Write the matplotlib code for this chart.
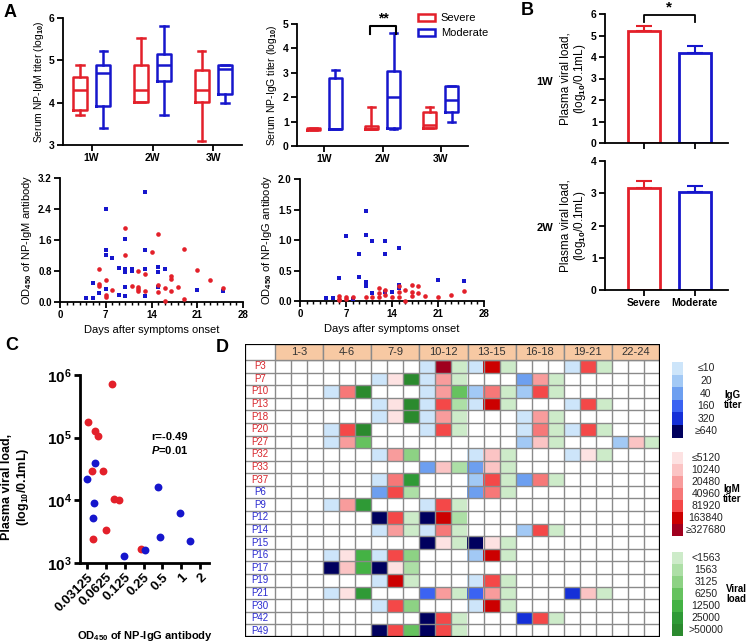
import numpy as np
import matplotlib
matplotlib.use('Agg')
import matplotlib.pyplot as plt
from matplotlib.patches import Patch, Rectangle
from matplotlib.ticker import MultipleLocator, NullLocator

plt.rcParams['font.family'] = ['Liberation Sans', 'DejaVu Sans']
plt.rcParams['font.weight'] = 'bold'
plt.rcParams['mathtext.fontset'] = 'custom'
plt.rcParams['mathtext.rm'] = 'Liberation Sans'
plt.rcParams['mathtext.it'] = 'Liberation Sans:italic'
plt.rcParams['mathtext.bf'] = 'Liberation Sans:bold'

RED = '#e3202a'
BLUE = '#1616cc'

# ---------------- data ----------------
weeks = ['1W', '2W', '3W']
# box stats per week: [whislo, q1, med, q3, whishi]
igm_severe = [[3.7, 3.82, 4.3, 4.6, 4.9], [4.02, 4.02, 4.3, 4.9, 5.52], [3.1, 4.02, 4.3, 4.78, 5.22]]
igm_moderate = [[3.4, 3.93, 4.7, 4.9, 5.22], [3.7, 4.5, 4.9, 5.15, 5.82], [4.0, 4.2, 4.8, 4.9, 4.9]]
igg_severe = [[0.66, 0.66, 0.7, 0.74, 0.74], [0.7, 0.7, 0.7, 0.8, 1.6], [0.72, 0.72, 0.88, 1.38, 1.6]]
igg_moderate = [[0.7, 0.7, 0.7, 2.78, 3.1], [0.7, 0.72, 2.0, 3.08, 4.62], [1.0, 1.4, 1.9, 2.45, 2.45]]

igm_mod_day = [13, 7, 7, 7, 8, 10, 10, 10, 11, 11, 9, 13, 13, 15, 15, 16, 10, 10, 9, 7, 6, 5, 5, 4, 13, 15, 21, 25]
igm_mod_od = [2.85, 2.4, 1.35, 1.22, 1.14, 1.62, 0.84, 0.78, 0.84, 0.80, 0.88, 1.34, 0.86, 0.90, 0.78, 0.84,
              0.39, 0.15, 0.19, 0.33, 0.22, 0.49, 0.11, 0.11, 0.16, 0.39, 0.32, 0.28]
igm_sev_day = [10, 15, 14, 19, 10, 6, 12, 13, 21, 17, 17, 23, 7, 6, 6, 7, 7, 8, 11, 12, 12, 12, 13, 15, 15,
               16, 17, 18, 19, 16, 25]
igm_sev_od = [1.9, 1.75, 1.29, 1.38, 1.21, 0.86, 0.80, 0.72, 0.82, 0.66, 0.60, 0.58, 0.56, 0.47, 0.41, 0.19,
              0.13, 0.32, 0.41, 0.39, 0.33, 0.28, 0.28, 0.43, 0.26, 0.36, 0.28, 0.39, 0.09, 0.02, 0.36]

igg_mod_day = [10, 7, 10, 11, 13, 9, 13, 15, 6, 9, 10, 10, 11, 13, 14, 15, 15, 21, 25, 4, 5, 8]
igg_mod_od = [1.48, 1.07, 1.09, 0.98, 0.99, 0.77, 0.77, 0.87, 0.37, 0.40, 0.31, 0.24, 0.13, 0.14, 0.15, 0.27,
              0.22, 0.34, 0.32, 0.05, 0.05, 0.04]
igg_sev_day = [6, 6, 6, 7, 7, 8, 10, 11, 12, 12, 12, 13, 13, 14, 15, 15, 15, 16, 16, 17, 17, 17, 18, 18, 19,
               21, 23, 25]
igg_sev_od = [0.08, 0.04, 0.01, 0.07, 0.03, 0.07, 0.06, 0.07, 0.22, 0.13, 0.06, 0.18, 0.10, 0.07, 0.24, 0.14,
              0.06, 0.18, 0.0, 0.26, 0.14, 0.09, 0.24, 0.13, 0.08, 0.06, 0.10, 0.16]

groups_b = ['Severe', 'Moderate']
viral_1w = [5.22, 4.2]
err_1w = [0.21, 0.3]
viral_2w = [3.15, 3.05]
err_2w = [0.23, 0.18]

c_sev_od = [0.079, 0.032, 0.041, 0.047, 0.0376, 0.057, 0.083, 0.103, 0.063, 0.039, 0.225]
c_sev_vl = [7.1e5, 1.8e5, 1.26e5, 1.07e5, 2.9e4, 2.95e4, 1.05e4, 1.0e4, 3.4e3, 2.4e3, 1.7e3]
c_mod_od = [0.042, 0.031, 0.040, 0.039, 0.12, 0.26, 0.42, 0.46, 0.97, 1.39]
c_mod_vl = [4e4, 2.2e4, 9.1e3, 5.2e3, 1.3e3, 1.6e3, 1.65e4, 2.6e3, 6.3e3, 2.25e3]
c_ticks = [0.03125, 0.0625, 0.125, 0.25, 0.5, 1, 2]
c_tick_labels = ['0.03125', '0.0625', '0.125', '0.25', '0.5', '1', '2']

day_groups = ['1-3', '4-6', '7-9', '10-12', '13-15', '16-18', '19-21', '22-24']
patients = ['P3', 'P7', 'P10', 'P13', 'P18', 'P20', 'P27', 'P32', 'P33', 'P37',
            'P6', 'P9', 'P12', 'P14', 'P15', 'P16', 'P17', 'P19', 'P21', 'P30', 'P42', 'P49']
severe = [True] * 10 + [False] * 12
# level index per day group (0 = not measured)
igg_lv = [[0, 0, 0, 1, 1, 0, 1, 0], [0, 0, 1, 1, 0, 3, 0, 0], [0, 1, 0, 1, 2, 2, 0, 0], [0, 0, 1, 1, 1, 0, 1, 0],
          [0, 0, 1, 1, 0, 1, 0, 0], [0, 1, 0, 1, 0, 1, 1, 0], [0, 1, 0, 0, 0, 2, 0, 2], [0, 0, 1, 0, 1, 0, 1, 0],
          [0, 0, 0, 3, 3, 0, 0, 0], [0, 0, 1, 0, 2, 3, 0, 0], [0, 0, 3, 0, 3, 0, 0, 0], [0, 1, 0, 1, 0, 0, 0, 0],
          [0, 0, 6, 6, 0, 0, 0, 0], [0, 0, 1, 1, 0, 2, 0, 0], [0, 0, 0, 6, 6, 0, 0, 0], [0, 1, 1, 0, 2, 0, 0, 0],
          [0, 6, 6, 0, 0, 0, 0, 0], [0, 0, 1, 0, 1, 0, 0, 0], [0, 1, 0, 4, 4, 0, 5, 0], [0, 0, 1, 0, 1, 0, 0, 0],
          [0, 0, 0, 6, 0, 5, 0, 0], [0, 0, 6, 6, 0, 0, 0, 0]]
igm_lv = [[0, 0, 0, 7, 6, 0, 5, 0], [0, 0, 1, 3, 0, 3, 0, 0], [0, 4, 0, 3, 4, 5, 0, 0], [0, 0, 1, 5, 6, 0, 5, 0],
          [0, 0, 1, 3, 0, 3, 0, 0], [0, 5, 0, 5, 0, 4, 5, 0], [0, 3, 0, 0, 0, 2, 0, 2], [0, 0, 3, 0, 2, 0, 1, 0],
          [0, 0, 0, 2, 2, 0, 0, 0], [0, 0, 4, 0, 5, 4, 0, 0], [0, 0, 5, 0, 4, 0, 0, 0], [0, 3, 0, 5, 0, 0, 0, 0],
          [0, 0, 5, 6, 0, 0, 0, 0], [0, 0, 3, 4, 0, 5, 0, 0], [0, 0, 0, 1, 1, 0, 0, 0], [0, 1, 5, 0, 6, 0, 0, 0],
          [0, 2, 1, 0, 0, 0, 0, 0], [0, 0, 6, 0, 5, 0, 0, 0], [0, 1, 0, 3, 3, 0, 2, 0], [0, 0, 5, 0, 6, 0, 0, 0],
          [0, 0, 0, 5, 0, 5, 0, 0], [0, 0, 5, 5, 0, 0, 0, 0]]
vl_lv = [[0, 0, 0, 1, 1, 0, 1, 0], [0, 0, 7, 1, 0, 1, 0, 0], [0, 7, 0, 4, 1, 1, 0, 0], [0, 0, 7, 2, 1, 0, 1, 0],
         [0, 0, 7, 1, 0, 1, 0, 0], [0, 7, 0, 1, 0, 1, 1, 0], [0, 4, 0, 0, 0, 1, 0, 1], [0, 0, 3, 0, 1, 0, 1, 0],
         [0, 0, 0, 2, 1, 0, 0, 0], [0, 0, 6, 0, 1, 1, 0, 0], [0, 0, 2, 0, 1, 0, 0, 0], [0, 6, 0, 1, 0, 0, 0, 0],
         [0, 0, 1, 2, 0, 0, 0, 0], [0, 0, 1, 1, 0, 1, 0, 0], [0, 0, 0, 1, 1, 0, 0, 0], [0, 5, 3, 0, 1, 0, 0, 0],
         [0, 5, 2, 0, 0, 0, 0, 0], [0, 0, 1, 0, 1, 0, 0, 0], [0, 6, 0, 1, 1, 0, 1, 0], [0, 0, 3, 0, 1, 0, 0, 0],
         [0, 0, 0, 1, 0, 1, 0, 0], [0, 0, 4, 1, 0, 0, 0, 0]]

igg_labels = ['≤10', '20', '40', '160', '320', '≥640']
igm_labels = ['≤5120', '10240', '20480', '40960', '81920', '163840', '≥327680']
vl_labels = ['<1563', '1563', '3125', '6250', '12500', '25000', '>50000']
igg_colors = ['#cde5fa', '#a2c9f5', '#6d9ff0', '#3b63f2', '#1530d8', '#00005e']
igm_colors = ['#fde2e2', '#fbc4c4', '#f89c9c', '#f67878', '#f44848', '#cc0000', '#a0001e']
vl_colors = ['#cdebc9', '#addfa6', '#8dd284', '#66c25f', '#44b244', '#2f9a36', '#2b8a2e']

# ---------------- figure ----------------
W, H = 750, 644
fig = plt.figure(figsize=(7.5, 6.44), dpi=100)


def px_axes(x0, y0, x1, y1):
    return fig.add_axes([x0 / W, 1 - y1 / H, (x1 - x0) / W, (y1 - y0) / H])


def prism(ax, lw=1.3, size=7.5):
    for s in ['top', 'right']:
        ax.spines[s].set_visible(False)
    for s in ['left', 'bottom']:
        ax.spines[s].set_linewidth(lw)
    ax.tick_params(width=lw, length=4, labelsize=size, pad=2)
    ax.tick_params(which='minor', width=lw * 0.8, length=2.5)


def box_stats(rows):
    return [dict(whislo=r[0], q1=r[1], med=r[2], q3=r[3], whishi=r[4], fliers=[]) for r in rows]


def draw_boxes(ax, sev, mod):
    pos = np.arange(1, 4)
    for data, off, col in [(sev, -0.19, RED), (mod, 0.19, BLUE)]:
        kw = dict(color=col, lw=1.8)
        ax.bxp(box_stats(data), positions=pos + off, widths=0.23, capwidths=0.12,
               showfliers=False, manage_ticks=False, boxprops=kw, whiskerprops=kw,
               capprops=kw, medianprops=kw)
    ax.set_xlim(0.53, 3.47)
    ax.set_xticks(pos, weeks)


# A: IgM titer boxes
ax = px_axes(63, 18, 242, 145)
draw_boxes(ax, igm_severe, igm_moderate)
ax.set_ylim(3, 6)
ax.set_yticks([3, 4, 5, 6])
ax.set_ylabel('Serum NP-IgM titer (log$_{10}$)', fontsize=7.5, fontweight='normal', labelpad=2)
prism(ax)

# A: IgG titer boxes
ax = px_axes(297, 24, 468, 146)
draw_boxes(ax, igg_severe, igg_moderate)
ax.set_ylim(0, 5)
ax.set_yticks(range(6))
ax.set_ylabel('Serum NP-IgG titer (log$_{10}$)', fontsize=7.5, fontweight='normal', labelpad=3)
prism(ax)
ax.plot([1.78, 1.78, 2.24, 2.24], [4.6, 4.9, 4.9, 4.6], color='black', lw=1.5, clip_on=False)
ax.text(2.01, 4.95, '**', ha='center', va='bottom', fontsize=10)
handles = [Patch(facecolor='white', edgecolor=RED, lw=1.8, label='Severe'),
           Patch(facecolor='white', edgecolor=BLUE, lw=1.8, label='Moderate')]
fig.legend(handles=handles, loc='upper left', bbox_to_anchor=(414 / W, 1 - 9 / H), frameon=False,
           prop=dict(size=8, weight='normal'), handlelength=1.5, handleheight=0.6,
           handletextpad=0.5, labelspacing=0.45, borderaxespad=0)

# A: IgM OD scatter
ax = px_axes(60, 178, 243, 302)
ax.scatter(igm_mod_day, igm_mod_od, marker='s', s=10, color=BLUE, lw=0, clip_on=False, zorder=3)
ax.scatter(igm_sev_day, igm_sev_od, marker='o', s=11, color=RED, lw=0, clip_on=False, zorder=3)
ax.set_xlim(0, 28)
ax.set_ylim(0, 3.2)
ax.set_xticks([0, 7, 14, 21, 28])
ax.xaxis.set_minor_locator(MultipleLocator(1))
ax.set_yticks([0, 0.8, 1.6, 2.4, 3.2], ['0.0', '0.8', '1.6', '2.4', '3.2'])
ax.set_xlabel('Days after symptoms onset', fontsize=8, labelpad=3)
ax.set_ylabel('OD$_{\\mathbf{450}}$ of NP-IgM antibody', fontsize=8, labelpad=3)
prism(ax, size=7)

# A: IgG OD scatter
ax = px_axes(300, 179, 484, 301)
ax.scatter(igg_mod_day, igg_mod_od, marker='s', s=10, color=BLUE, lw=0, clip_on=False, zorder=3)
ax.scatter(igg_sev_day, igg_sev_od, marker='o', s=11, color=RED, lw=0, clip_on=False, zorder=3)
ax.set_xlim(0, 28)
ax.set_ylim(0, 2.0)
ax.set_xticks([0, 7, 14, 21, 28])
ax.xaxis.set_minor_locator(MultipleLocator(1))
ax.set_yticks([0, 0.5, 1.0, 1.5, 2.0], ['0.0', '0.5', '1.0', '1.5', '2.0'])
ax.set_xlabel('Days after symptoms onset', fontsize=8, labelpad=3)
ax.set_ylabel('OD$_{\\mathbf{450}}$ of NP-IgG antibody', fontsize=8, labelpad=3)
prism(ax, size=7)


# B: viral load bars
def viral_bars(ax, vals, errs, ymax):
    x = np.arange(len(vals))
    for xi, v, e, col in zip(x, vals, errs, [RED, BLUE]):
        ax.errorbar(xi, v, yerr=[[0], [e]], color=col, lw=1.5, capsize=6, capthick=1.5, zorder=1)
        ax.bar(xi, v, width=0.63, facecolor='white', edgecolor=col, lw=2, zorder=2)
    ax.set_xlim(-0.76, 1.65)
    ax.set_ylim(0, ymax)
    ax.set_yticks(range(ymax + 1))
    ax.set_ylabel('Plasma viral load,\n(log$_{10}$/0.1mL)', fontsize=8.5, fontweight='normal',
                  labelpad=2, linespacing=1.1)
    prism(ax)
    return x


ax = px_axes(605, 14, 728, 143)
x = viral_bars(ax, viral_1w, err_1w, 6)
ax.set_xticks(x, ['', ''])
ax.plot([0, 0, 1, 1], [5.65, 5.95, 5.95, 5.65], color='black', lw=1.3, clip_on=False)
ax.text(0.5, 5.98, '*', ha='center', va='bottom', fontsize=11)

ax = px_axes(605, 161, 728, 290)
x = viral_bars(ax, viral_2w, err_2w, 4)
ax.set_xticks(x, groups_b)

# C: correlation scatter
ax = px_axes(80, 375, 209, 563)
ax.scatter(c_sev_od, c_sev_vl, s=32, color=RED, lw=0, zorder=3)
ax.scatter(c_mod_od, c_mod_vl, s=32, color=BLUE, lw=0, zorder=3)
ax.set_xscale('log', base=2)
ax.set_yscale('log')
ax.set_xlim(0.024, 2.8)
ax.set_ylim(1e3, 1e6)
ax.set_xticks(c_ticks, c_tick_labels, rotation=45, ha='right', rotation_mode='anchor')
ax.xaxis.set_minor_locator(NullLocator())
ax.yaxis.set_minor_locator(NullLocator())
ax.set_yticks([1e3, 1e4, 1e5, 1e6], ['$\\mathbf{10^{%d}}$' % k for k in range(3, 7)])
prism(ax, lw=2, size=9.5)
ax.tick_params(axis='y', labelsize=11)
ax.text(0.55, 0.67, 'r=-0.49', transform=ax.transAxes, fontsize=8, va='center')
ax.text(0.55, 0.60, '$\\mathbf{\\it{P}}$=0.01', transform=ax.transAxes, fontsize=8, va='center')

# D: heatmap table
hx = px_axes(245, 344, 660, 637)
n_rows = len(patients)
img = np.ones((n_rows, 24, 3))
for r in range(n_rows):
    for g in range(8):
        for k, (lv, pal) in enumerate([(igg_lv, igg_colors), (igm_lv, igm_colors), (vl_lv, vl_colors)]):
            level = lv[r][g]
            if level:
                img[r, 3 * g + k] = matplotlib.colors.to_rgb(pal[level - 1])
lab_w = 30 / 16.04
head_h = 16 / (277 / n_rows)
hx.imshow(img, extent=(0, 24, n_rows, 0), aspect='auto', interpolation='nearest', zorder=1)
grid = '#8a8a8a'
for xv in range(25):
    hx.plot([xv, xv], [0, n_rows], color=grid, lw=1.0, zorder=2)
for yv in range(n_rows + 1):
    hx.plot([-lab_w, 24], [yv, yv], color=grid, lw=1.0, zorder=2)
for g, name in enumerate(day_groups):
    hx.add_patch(Rectangle((3 * g, -head_h), 3, head_h, facecolor='#f7c9a3', edgecolor=grid, lw=1.0, zorder=2))
    hx.text(3 * g + 1.5, -head_h / 2, name, ha='center', va='center', fontsize=8,
            fontweight='normal', color='#333333', zorder=3)
for r, (name, sev) in enumerate(zip(patients, severe)):
    hx.text(-lab_w / 2, r + 0.5, name, ha='center', va='center', fontsize=7,
            fontweight='normal', color='#d8262c' if sev else '#2a2ad0', zorder=3)
hx.add_patch(Rectangle((-lab_w, -head_h), 24 + lab_w, n_rows + head_h, facecolor='none',
                       edgecolor='black', lw=1.6, zorder=4))
hx.set_xlim(-lab_w, 24)
hx.set_ylim(n_rows, -head_h)
hx.axis('off')

# overlay for panel letters and the D legend
ov = fig.add_axes([0, 0, 1, 1])
ov.set_xlim(0, W)
ov.set_ylim(H, 0)
ov.axis('off')
for letter, (lx, ly) in zip('ABCD', [(10, 12), (527, 10), (12, 345), (222, 347)]):
    ov.text(lx, ly, letter, fontsize=13, ha='center', va='center')
ov.text(545, 82, '1W', fontsize=8, ha='center', va='center')
ov.text(545, 228, '2W', fontsize=8, ha='center', va='center')
ov.text(145, 636, 'OD$_{\\mathbf{450}}$ of NP-IgG antibody', fontsize=8, ha='center', va='center')
ov.text(16, 487, 'Plasma viral load,\n(log$_{\\mathbf{10}}$/0.1mL)', fontsize=9, ha='center',
        va='center', rotation=90, linespacing=1.2)

legend_sets = [(igg_labels, igg_colors, 362, 12.6, 'IgG\ntiter', 724),
               (igm_labels, igm_colors, 452, 12.0, 'IgM\ntiter', 723),
               (vl_labels, vl_colors, 552, 12.0, 'Viral\nload', 726)]
for labels, cols, top, step, title, tx in legend_sets:
    for i, (lab, col) in enumerate(zip(labels, cols)):
        ov.add_patch(Rectangle((672, top + i * step), 11, step, facecolor=col, edgecolor='none'))
        ov.text(706, top + (i + 0.5) * step, lab, fontsize=7.5, ha='center', va='center',
                fontweight='normal', color='#222222')
    ov.text(tx, top + len(labels) * step / 2, title, fontsize=7, ha='left', va='center', linespacing=1.0)

fig.savefig('out.png', dpi=100)
